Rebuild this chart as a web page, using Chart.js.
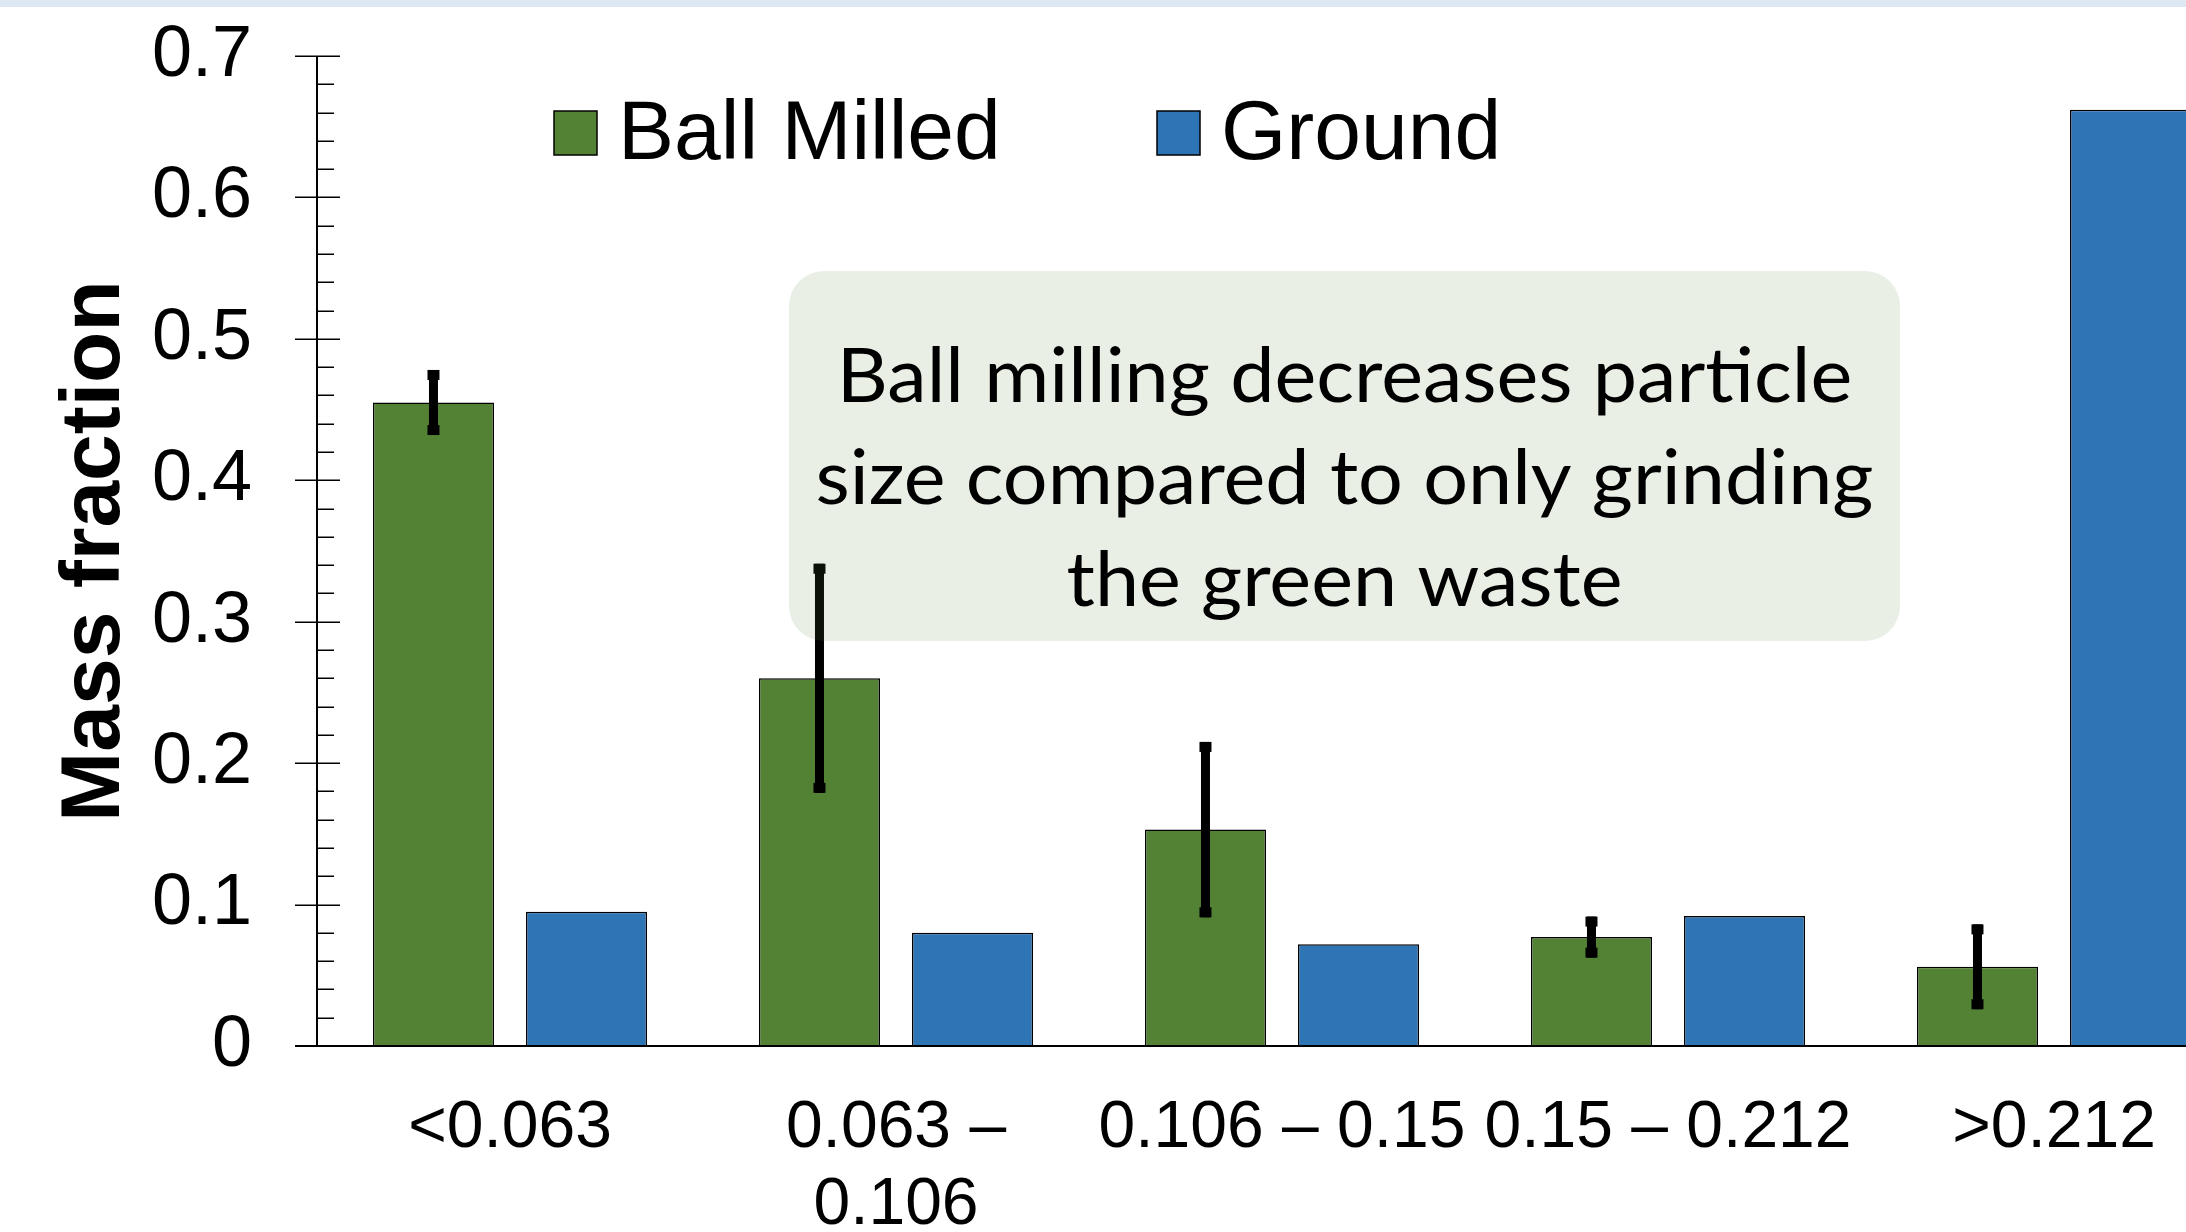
<!DOCTYPE html>
<html>
<head>
<meta charset="utf-8">
<script src="https://cdn.jsdelivr.net/npm/chart.js@4/dist/chart.umd.min.js"></script>
<style>
  html, body { margin: 0; padding: 0; background: #fff; overflow: hidden; }
  #wrap { position: relative; width: 2186px; height: 1232px; overflow: hidden; background: #fff; }
  #band { position: absolute; left: 0; top: 0; width: 2186px; height: 7px; background: #dee8f4; }
  #c { position: absolute; left: 0; top: 0; }
</style>
</head>
<body>
<div id="wrap">
  <canvas id="c" width="2260" height="1232"></canvas>
  <div id="band"></div>
</div>
<script>
// Particle size classes (mm)
const sizeClasses = ['<0.063', ['0.063 –', '0.106'], '0.106 – 0.15', '0.15 – 0.212', '>0.212'];
// Mass fraction per size class
const ballMilled    = [0.455, 0.260, 0.153, 0.077, 0.056];
const ballMilledErr = [0.023, 0.081, 0.062, 0.0145, 0.030];
const ground        = [0.095, 0.080, 0.072, 0.092, 0.662];
const seriesNames   = ['Ball Milled', 'Ground'];
const yAxisTitle    = 'Mass fraction';
const noteLines     = ['Ball milling decreases particle', 'size compared to only grinding', 'the green waste'];

const GREEN = '#548235';
const BLUE  = '#2e75b6';
const SANS  = '"Liberation Sans", Arial, sans-serif';

// Axis lines with crossing major ticks and inner minor ticks
const axesPlugin = {
  id: 'axes',
  afterDatasetsDraw(chart) {
    const { ctx, chartArea: a, scales: { y } } = chart;
    ctx.save();
    ctx.strokeStyle = '#000';
    ctx.lineWidth = 2;
    ctx.beginPath();
    ctx.moveTo(a.left, y.getPixelForValue(0.7));
    ctx.lineTo(a.left, y.getPixelForValue(0));
    ctx.stroke();
    ctx.beginPath();
    ctx.moveTo(a.left - 22, y.getPixelForValue(0));
    ctx.lineTo(chart.width, y.getPixelForValue(0));
    ctx.stroke();
    ctx.lineWidth = 1.5;
    for (let k = 0; k <= 35; k++) {
      const py = Math.round(y.getPixelForValue(k * 0.02)) + 0.25;
      ctx.beginPath();
      if (k % 5 === 0) { ctx.moveTo(a.left - 22, py); ctx.lineTo(a.left + 23, py); }
      else { ctx.moveTo(a.left, py); ctx.lineTo(a.left + 17, py); }
      ctx.stroke();
    }
    ctx.restore();
  }
};

// Error bars on the Ball Milled series
const errorBarPlugin = {
  id: 'errorBars',
  afterDatasetsDraw(chart) {
    const { ctx, scales: { y } } = chart;
    chart.data.datasets.forEach((ds, di) => {
      if (!ds.errors) return;
      const meta = chart.getDatasetMeta(di);
      meta.data.forEach((bar, i) => {
        const v = ds.data[i], e = ds.errors[i];
        const yt = y.getPixelForValue(v + e);
        const yb = y.getPixelForValue(v - e);
        ctx.save();
        ctx.fillStyle = '#000';
        ctx.fillRect(bar.x - 4.5, yt, 9, yb - yt);
        ctx.fillRect(bar.x - 6, yt, 12, 10);
        ctx.fillRect(bar.x - 6, yb - 10, 12, 10);
        ctx.restore();
      });
    });
  }
};

// Translucent rounded note box
const notePlugin = {
  id: 'note',
  afterDatasetsDraw(chart) {
    const { ctx } = chart;
    const bx = 789, by = 271, bw = 1111, bh = 370;
    ctx.save();
    ctx.fillStyle = 'rgba(84,130,53,0.13)';
    ctx.beginPath();
    ctx.roundRect(bx, by, bw, bh, 35);
    ctx.fill();
    ctx.fillStyle = '#000';
    ctx.font = '76px Lato, "Open Sans", sans-serif';
    ctx.textAlign = 'center';
    ctx.textBaseline = 'alphabetic';
    const widest = Math.max(...noteLines.map(t => ctx.measureText(t).width));
    const sx = 1058 / widest;
    const cx = bx + bw / 2;
    noteLines.forEach((t, i) => {
      ctx.save();
      ctx.translate(cx, 402 + i * 102);
      ctx.scale(sx, 1);
      ctx.fillText(t, 0, 0);
      ctx.restore();
    });
    ctx.restore();
  }
};

// Legend drawn inside the plot area
const legendPlugin = {
  id: 'insideLegend',
  afterDraw(chart) {
    const { ctx } = chart;
    const spots = [{ bx: 554, tx: 618 }, { bx: 1157, tx: 1221 }];
    ctx.save();
    ctx.font = '84px ' + SANS;
    ctx.textBaseline = 'alphabetic';
    ctx.textAlign = 'left';
    chart.data.datasets.forEach((ds, i) => {
      const s = spots[i];
      ctx.fillStyle = ds.backgroundColor;
      ctx.fillRect(s.bx, 111, 43, 44);
      ctx.strokeStyle = '#000';
      ctx.lineWidth = 1.5;
      ctx.strokeRect(s.bx, 111, 43, 44);
      ctx.fillStyle = '#000';
      ctx.fillText(ds.label, s.tx, 159);
    });
    ctx.restore();
  }
};

new Chart(document.getElementById('c'), {
  type: 'bar',
  data: {
    labels: sizeClasses,
    datasets: [
      { label: seriesNames[0], data: ballMilled, errors: ballMilledErr,
        backgroundColor: GREEN, borderColor: '#000', borderWidth: 1.5 },
      { label: seriesNames[1], data: ground,
        backgroundColor: BLUE, borderColor: '#000', borderWidth: 1.5 }
    ]
  },
  options: {
    responsive: false,
    devicePixelRatio: 1,
    animation: false,
    layout: { padding: { top: 56, right: 13, bottom: 0, left: 0 } },
    categoryPercentage: 0.793,
    barPercentage: 0.791,
    plugins: { legend: { display: false }, tooltip: { enabled: false }, title: { display: false } },
    scales: {
      x: {
        offset: true,
        grid: { display: false, drawTicks: false },
        border: { display: false },
        ticks: {
          autoSkip: false, maxRotation: 0, minRotation: 0,
          color: '#000', padding: 44,
          font: { family: SANS, size: 66, lineHeight: 1.174 }
        },
        afterFit(scale) { scale.height = 186; }
      },
      y: {
        min: 0, max: 0.7,
        // invisible tick marks reserve the gap between labels and the axis
        grid: { display: true, color: 'rgba(0,0,0,0)', drawOnChartArea: false, drawTicks: true, tickLength: 57 },
        border: { display: false },
        ticks: {
          stepSize: 0.1, color: '#000', padding: 8,
          font: { family: SANS, size: 72 },
          callback: v => (v === 0 ? '0' : Number(v).toFixed(1))
        },
        title: {
          display: true, text: yAxisTitle, color: '#000',
          font: { family: SANS, size: 84, weight: 'bold', lineHeight: 1.2 },
          padding: { top: 45, bottom: 0 }
        },
        afterFit(scale) { scale.width = 317; }
      }
    }
  },
  plugins: [axesPlugin, errorBarPlugin, notePlugin, legendPlugin]
});
</script>
</body>
</html>
